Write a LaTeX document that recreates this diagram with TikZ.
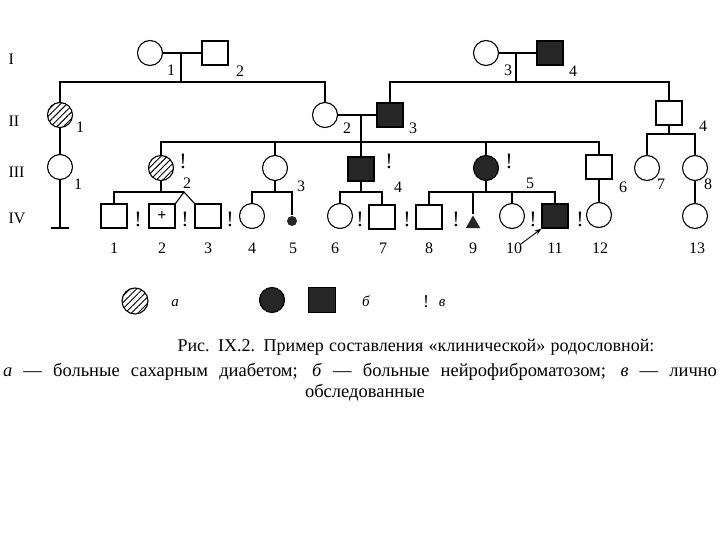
\documentclass[tikz,border=0pt]{standalone}
\usepackage{fontspec}
\setmainfont{Liberation Serif}
\usetikzlibrary{shapes.geometric, arrows.meta, patterns.meta, calc}

\begin{document}
\begin{tikzpicture}[
    x=1pt, y=-1pt,
    line width=1.1pt,
    font=\fontsize{16}{16}\selectfont,
    male/.style={
        rectangle,
        draw=black,
        minimum width=26pt,
        minimum height=24pt,
        inner sep=0pt
    },
    female/.style={
        circle,
        draw=black,
        minimum size=25pt,
        inner sep=0pt
    },
    affm/.style={male, fill=black!85},
    afff/.style={female, fill=black!85},
    diabf/.style={female, pattern={Lines[angle=45, distance=4.5pt, line width=0.9pt]}},
    num/.style={inner sep=0pt, font=\fontsize{16}{16}\selectfont},
    gen/.style={anchor=west, inner sep=0pt, font=\fontsize{16}{16}\selectfont},
    excl/.style={inner sep=0pt, font=\fontsize{22}{22}\selectfont},
    arrow/.style={-{Stealth[length=7pt, width=5pt]}}
]

    \useasboundingbox[fill=white] (0,0) rectangle (720,540);

    % generations
    \node[gen] (gI) at (8,59) {I};
    \node[gen] (gII) at (8,121) {II};
    \node[gen] (gIII) at (8,172) {III};
    \node[gen] (gIV) at (8,218) {IV};

    % generation I
    \node[female] (i1) at (150,53) {};
    \node[male] (i2) at (215,53) {};
    \node[female] (i3) at (486,53) {};
    \node[affm] (i4) at (550,53) {};
    \node[num] (li1) at (171,70) {1};
    \node[num] (li2) at (240,71) {2};
    \node[num] (li3) at (508,70) {3};
    \node[num] (li4) at (573,71) {4};

    % generation II
    \node[diabf] (ii1) at (60,115) {};
    \node[female] (ii2) at (325,115) {};
    \node[affm] (ii3) at (390,115) {};
    \node[male] (ii4) at (669,113) {};
    \node[num] (lii1) at (80,127) {1};
    \node[num] (lii2) at (347,128) {2};
    \node[num] (lii3) at (413,128) {3};
    \node[num] (lii4) at (703,126) {4};

    % generation III
    \node[female] (iii1) at (60,167) {};
    \node[diabf] (iii2) at (161,168) {};
    \node[female] (iii3) at (275,168) {};
    \node[affm] (iii4) at (361,169) {};
    \node[afff] (iii5) at (486,168) {};
    \node[male] (iii6) at (599,167) {};
    \node[female] (iii7) at (647,168) {};
    \node[female] (iii8) at (695,168) {};
    \node[num] (liii1) at (78,184) {1};
    \node[num] (liii2) at (187,183) {2};
    \node[num] (liii3) at (301,186) {3};
    \node[num] (liii4) at (398,187) {4};
    \node[num] (liii5) at (530,183) {5};
    \node[num] (liii6) at (623,187) {6};
    \node[num] (liii7) at (661,184) {7};
    \node[num] (liii8) at (708,184) {8};

    % generation IV
    \node[male] (iv1) at (114,216) {};
    \node[male, font=\bfseries\fontsize{16}{16}\selectfont] (iv2) at (162,216) {+};
    \node[male] (iv3) at (208,216) {};
    \node[female] (iv4) at (252,216) {};
    \node[circle, fill=black!85, minimum size=10pt, inner sep=0pt] (iv5) at (292,221) {};
    \node[female] (iv6) at (340,216) {};
    \node[male] (iv7) at (382,217) {};
    \node[male] (iv8) at (429,217) {};
    \node[regular polygon, regular polygon sides=3, fill=black!85, minimum size=17pt, inner sep=0pt] (iv9) at (473,224) {};
    \node[female] (iv10) at (512,216) {};
    \node[affm] (iv11) at (555,216) {};
    \node[female] (iv12) at (599,215) {};
    \node[female] (iv13) at (695,216) {};
    \foreach \n/\x in {1/114, 2/162, 3/208, 4/252, 5/293, 6/335, 7/383, 8/429, 9/473, 10/514, 11/555, 12/600, 13/697}
        \node[num] (liv\n) at (\x,248) {\n};

    % personally examined
    \foreach \k/\x/\y in {a/183/161, b/389/161, c/509/161, d/138/219, e/185/219, f/230/219, g/360/219, h/407/219, k/456/219, m/533/219, n/580/219}
        \node[excl] (ex\k) at (\x,\y) {!};

    % junctions
    \coordinate (m12) at (181,53);
    \coordinate (s12) at (181,82);
    \coordinate (m34) at (516,53);
    \coordinate (s34) at (516,82);
    \coordinate (m23) at (361,115);
    \coordinate (s23) at (361,142);
    \coordinate (s44) at (669,134);
    \coordinate (end1) at (60,228);
    \coordinate (s2) at (161,192);
    \coordinate (tw) at (184,192);
    \coordinate (s3) at (275,192);
    \coordinate (s4) at (361,192);
    \coordinate (s5) at (486,192);
    \coordinate (pr) at (521,244);

    % I -> II
    \draw (i1) -- (i2);
    \draw (m12) -- (s12);
    \draw (ii1) -- (ii1 |- s12) -- (ii2 |- s12) -- (ii2);
    \draw (i3) -- (i4);
    \draw (m34) -- (s34);
    \draw (ii3) -- (ii3 |- s34) -- (ii4 |- s34) -- (ii4);

    % II -> III
    \draw (ii1) -- (iii1);
    \draw (iii1) -- (end1);
    \draw[line width=1.6pt] ([xshift=-9pt]end1) -- ([xshift=9pt]end1);
    \draw (ii2) -- (ii3);
    \draw (m23) -- (iii4);
    \draw (iii2) -- (iii2 |- s23) -- (iii6 |- s23) -- (iii6);
    \draw (iii3) -- (iii3 |- s23);
    \draw (iii5) -- (iii5 |- s23);
    \draw (ii4) -- (s44);
    \draw (iii7) -- (iii7 |- s44) -- (iii8 |- s44) -- (iii8);

    % III -> IV
    \draw (iii2) -- (s2);
    \draw (iv1) -- (iv1 |- s2) -- (tw);
    \draw (iv2.north east) -- (tw) -- (iv3.north west);
    \draw (iii3) -- (s3);
    \draw (iv4) -- (iv4 |- s3) -- (iv5 |- s3) -- (iv5);
    \draw (iii4) -- (s4);
    \draw (iv6) -- (iv6 |- s4) -- (iv7 |- s4) -- (iv7);
    \draw (iii5) -- (s5);
    \draw (iv8) -- (iv8 |- s5) -- (iv11 |- s5) -- (iv11);
    \draw (iv9) -- (iv9 |- s5);
    \draw (iv10) -- (iv10 |- s5);
    \draw (iii6) -- (iv12);
    \draw (iii8) -- (iv13);
    \draw[arrow, line width=0.9pt] (pr) -- (iv11.south west);

    % legend
    \node[diabf, minimum size=26pt] (lga) at (135,301) {};
    \node[num, font=\itshape\fontsize{15}{15}\selectfont] (lta) at (175,303) {а};
    \node[afff, minimum size=25pt] (lgc) at (272,300) {};
    \node[affm, minimum width=27pt, minimum height=25pt] (lgs) at (322,300) {};
    \node[num, font=\itshape\fontsize{15}{15}\selectfont] (ltb) at (366,301) {б};
    \node[excl, font=\fontsize{18}{18}\selectfont] (lge) at (426,302) {!};
    \node[num, font=\itshape\fontsize{15}{15}\selectfont] (ltv) at (442,303) {в};

    % caption
    \node[inner sep=0pt, font=\fontsize{18}{18}\selectfont] (cap1) at (416,347)
        {\makebox[477pt][s]{Рис. IX.2. Пример составления «клинической» родословной:}};
    \node[inner sep=0pt, font=\fontsize{18.5}{18.5}\selectfont] (cap2) at (360,372)
        {\makebox[714pt][s]{\textit{а} — больные сахарным диабетом; \textit{б} — больные нейрофиброматозом; \textit{в} — лично}};
    \node[inner sep=0pt, font=\fontsize{18.5}{18.5}\selectfont] (cap3) at (365,393) {обследованные};

\end{tikzpicture}
\end{document}
